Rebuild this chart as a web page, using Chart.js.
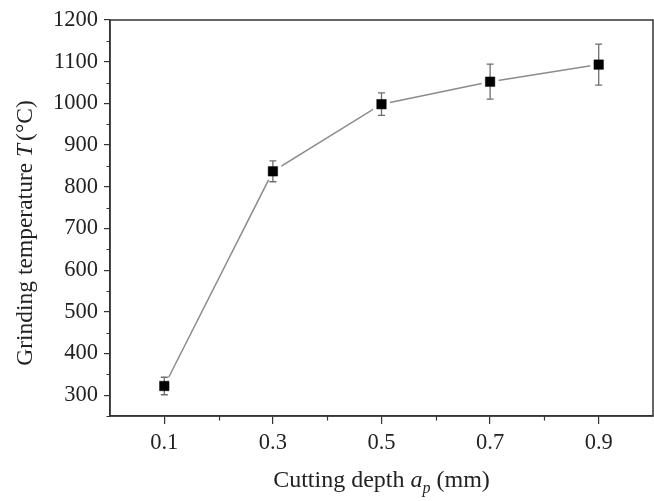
<!DOCTYPE html>
<html>
<head>
<meta charset="utf-8">
<script src="https://cdn.jsdelivr.net/npm/chart.js@4/dist/chart.umd.min.js"></script>
<style>
  html, body { margin: 0; padding: 0; background: #fff; }
  #wrap { width: 654px; height: 501px; position: relative; }
</style>
</head>
<body>
<div id="wrap"><canvas id="chart"></canvas></div>
<script>
// Cutting depth (mm) and measured grinding temperature (°C) with error half-widths
const depths = [0.1, 0.3, 0.5, 0.7, 0.9];
const temps = [322, 837, 998, 1052, 1093];
const tempErr = [21, 25, 27, 42, 49];

// Axis ticks
const xMajorTicks = [0.1, 0.3, 0.5, 0.7, 0.9];
const xMinorTicks = [0.2, 0.4, 0.6, 0.8];
const yMajorTicks = [300, 400, 500, 600, 700, 800, 900, 1000, 1100, 1200];
const yMinorTicks = [250, 350, 450, 550, 650, 750, 850, 950, 1050, 1150];

const SERIF = '"Liberation Serif", "Times New Roman", serif';
const TEXT = '#222';
const AXIS = '#333';

const points = depths.map((d, i) => ({ x: d, y: temps[i] }));

// Full box, minor ticks, error bars and axis titles
const decorations = {
  id: 'decorations',
  beforeDatasetDraw(chart, args) {
    if (args.index !== 1) return;
    const { ctx, scales: { x, y } } = chart;
    ctx.save();
    depths.forEach((d, i) => {
      const px = x.getPixelForValue(d);
      const py = y.getPixelForValue(temps[i]);
      // white margin so the connecting line stops short of the marker
      ctx.fillStyle = '#fff';
      ctx.fillRect(px - 8.5, py - 8.5, 17, 17);
      const top = y.getPixelForValue(temps[i] + tempErr[i]);
      const bot = y.getPixelForValue(temps[i] - tempErr[i]);
      ctx.strokeStyle = '#6e6e6e';
      ctx.lineWidth = 1.3;
      ctx.beginPath();
      ctx.moveTo(px, top); ctx.lineTo(px, bot);
      ctx.moveTo(px - 3.5, top); ctx.lineTo(px + 3.5, top);
      ctx.moveTo(px - 3.5, bot); ctx.lineTo(px + 3.5, bot);
      ctx.stroke();
    });
    ctx.restore();
  },
  afterDraw(chart) {
    const { ctx, chartArea: a, scales: { x, y } } = chart;
    ctx.save();
    ctx.strokeStyle = AXIS;
    ctx.lineWidth = 1.5;
    ctx.strokeRect(a.left, a.top, a.right - a.left, a.bottom - a.top);
    ctx.lineWidth = 1.2;
    ctx.beginPath();
    xMinorTicks.forEach(v => {
      const px = Math.round(x.getPixelForValue(v)) + 0.5;
      ctx.moveTo(px, a.bottom); ctx.lineTo(px, a.bottom + 4.5);
    });
    yMinorTicks.forEach(v => {
      const py = Math.round(y.getPixelForValue(v)) + 0.5;
      ctx.moveTo(a.left, py); ctx.lineTo(a.left - 3.5, py);
    });
    ctx.stroke();

    // axis titles with italic symbols
    const drawParts = (parts, startX, baseY) => {
      let cx = startX;
      parts.forEach(p => {
        ctx.font = p.font;
        ctx.fillText(p.t, cx, baseY + (p.dy || 0));
        cx += ctx.measureText(p.t).width + (p.after || 0);
      });
    };
    const widthOf = parts => parts.reduce((s, p) => {
      ctx.font = p.font; return s + ctx.measureText(p.t).width + (p.after || 0);
    }, 0);
    ctx.fillStyle = TEXT;
    ctx.textBaseline = 'alphabetic';
    ctx.textAlign = 'left';

    const xParts = [
      { t: 'Cutting depth ', font: '24px ' + SERIF },
      { t: 'a', font: 'italic 24px ' + SERIF },
      { t: 'p', font: 'italic 16px ' + SERIF, dy: 6 },
      { t: ' (mm)', font: '24px ' + SERIF }
    ];
    const xw = widthOf(xParts);
    drawParts(xParts, (a.left + a.right) / 2 - xw / 2, 487);

    const yParts = [
      { t: 'Grinding temperature ', font: '23.5px ' + SERIF },
      { t: 'T', font: 'italic 23.5px ' + SERIF, after: 3 },
      { t: '(°C)', font: '23.5px ' + SERIF }
    ];
    const yw = widthOf(yParts);
    ctx.translate(32, 233);
    ctx.rotate(-Math.PI / 2);
    drawParts(yParts, -yw / 2, 0);
    ctx.restore();
  }
};

new Chart(document.getElementById('chart'), {
  type: 'scatter',
  data: {
    datasets: [
      {
        data: points,
        showLine: true,
        borderColor: '#8c8c8c',
        borderWidth: 1.5,
        pointRadius: 0,
        tension: 0,
        order: 2
      },
      {
        data: points,
        showLine: false,
        pointStyle: 'rect',
        pointRadius: 6.7,
        pointBackgroundColor: '#000',
        pointBorderColor: '#000',
        pointBorderWidth: 0.5,
        order: 1
      }
    ]
  },
  options: {
    responsive: true,
    maintainAspectRatio: false,
    animation: false,
    events: [],
    layout: { autoPadding: false, padding: { top: 20, right: 1, left: 0, bottom: 0 } },
    plugins: { legend: { display: false }, tooltip: { enabled: false } },
    scales: {
      x: {
        type: 'linear',
        min: 0,
        max: 1.0,
        afterBuildTicks: s => { s.ticks = xMajorTicks.map(v => ({ value: v })); },
        afterFit: s => { s.height = 85; s.paddingLeft = 0; s.paddingRight = 0; },
        ticks: {
          font: { family: SERIF, size: 22.5 },
          color: TEXT,
          padding: 6,
          callback: v => v.toFixed(1)
        },
        grid: { drawOnChartArea: false, drawTicks: true, tickLength: 8, color: AXIS, lineWidth: 1.2 },
        border: { display: true, color: AXIS, width: 1.5 }
      },
      y: {
        min: 250,
        max: 1200,
        afterBuildTicks: s => { s.ticks = yMajorTicks.map(v => ({ value: v })); },
        afterFit: s => { s.width = 110; s.paddingTop = 0; s.paddingBottom = 0; },
        ticks: {
          font: { family: SERIF, size: 22.5 },
          color: TEXT,
          padding: 6,
          callback: v => String(v)
        },
        grid: { drawOnChartArea: false, drawTicks: true, tickLength: 6, color: AXIS, lineWidth: 1.2 },
        border: { display: true, color: AXIS, width: 1.5 }
      }
    }
  },
  plugins: [decorations]
});
</script>
</body>
</html>
